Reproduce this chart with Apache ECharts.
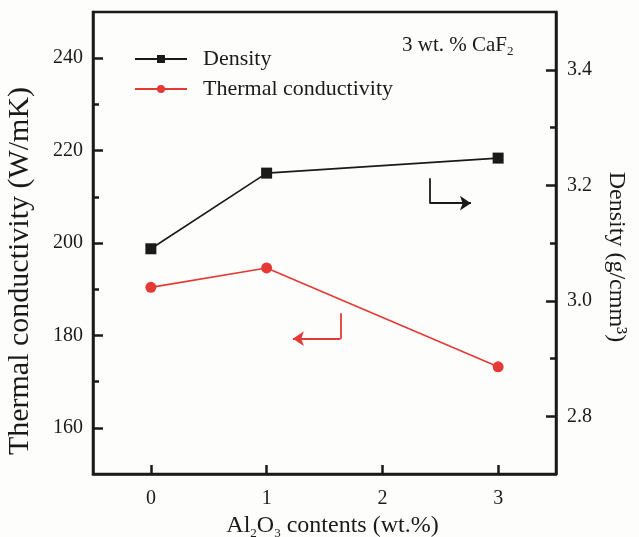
<!DOCTYPE html>
<html>
<head>
<meta charset="utf-8">
<script src="https://cdn.jsdelivr.net/npm/echarts@6/dist/echarts.min.js"></script>
<style>
html,body{margin:0;padding:0;background:#fdfdfb;}
#c{width:639px;height:537px;}
</style>
</head>
<body>
<div id="c"></div>
<script>
// ---- data ----
const alContents = [0, 1, 3];
const density = [3.09, 3.221, 3.247];
const thermal = [190.4, 194.6, 173.2];
const xTicks = [0, 1, 2, 3];
const leftTicks = [160, 180, 200, 220, 240];
const leftMinor = [170, 190, 210, 230];
const rightTicks = [2.8, 3.0, 3.2, 3.4];
const rightMinor = [2.9, 3.1, 3.3];
// annotation arrows (data units)
const redArrow = { x: 1.638, yTop: 184.8, yBot: 179.3, xTip: 1.227 };
const blackArrow = { x: 2.408, yTop: 3.212, yBot: 3.169, xTip: 2.765 };

const FONT = '"Liberation Serif", "Times New Roman", serif';
const INK = '#1a1a1a';
const RED = '#e53935';

const chart = echarts.init(document.getElementById('c'), null, {renderer: 'canvas'});

function pairs(arrX, arrY) { return arrX.map((x, i) => [x, arrY[i]]); }

const axisLineStyle = { show: true, onZero: false, lineStyle: { color: INK, width: 2.5 } };

const option = {
  animation: false,
  backgroundColor: '#fdfdfb',
  textStyle: { fontFamily: FONT, color: INK },
  grid: { left: 93, right: 83, top: 12, bottom: 63, outerBoundsMode: 'none', containLabel: false,
          show: true, borderColor: INK, borderWidth: 2.5, backgroundColor: 'transparent' },
  legend: {
    orient: 'vertical', left: 129, top: 43,
    itemWidth: 52, itemHeight: 10, itemGap: 8,
    textStyle: { fontFamily: FONT, fontSize: 22, color: INK, padding: [0, 0, 0, 11], lineHeight: 20 },
    data: ['Density', 'Thermal conductivity']
  },
  xAxis: {
    type: 'value', min: -0.5, max: 3.5,
    name: '{a|Al}{s|2}{a|O}{s|3}{a| contents (wt.%)}',
    nameLocation: 'middle', nameGap: 33,
    nameTextStyle: { padding: [0, 0, 0, 16], rich: {
      a: { fontFamily: FONT, fontSize: 24, color: INK, lineHeight: 28 },
      s: { fontFamily: FONT, fontSize: 13, color: INK, lineHeight: 13, verticalAlign: 'bottom' }
    }},
    axisLine: axisLineStyle,
    axisTick: { show: true, inside: true, length: 9, customValues: xTicks, lineStyle: { color: INK, width: 2.5 } },
    axisLabel: { customValues: xTicks, fontFamily: FONT, fontSize: 20, color: INK, margin: 15 },
    splitLine: { show: false }
  },
  yAxis: [
    {
      type: 'value', position: 'left', min: 150, max: 250,
      name: 'Thermal conductivity (W/mK)', nameLocation: 'middle', nameGap: 58, nameRotate: 90,
      nameTextStyle: { fontFamily: FONT, fontSize: 30, color: INK, padding: [0, 56, 0, 0] },
      axisLine: axisLineStyle,
      axisTick: { show: true, inside: true, length: 10, customValues: leftTicks, lineStyle: { color: INK, width: 2.5 } },
      axisLabel: { customValues: leftTicks, fontFamily: FONT, fontSize: 20, color: INK, margin: 10 },
      splitLine: { show: false }
    },
    {
      type: 'value', position: 'right', min: 2.7, max: 3.5,
      name: 'Density (g/cmm³)', nameLocation: 'middle', nameGap: 48, nameRotate: -90,
      nameTextStyle: { fontFamily: FONT, fontSize: 24, color: INK, padding: [0, 0, 0, 28] },
      axisLine: axisLineStyle,
      axisTick: { show: true, inside: true, length: 10, customValues: rightTicks, lineStyle: { color: INK, width: 2.5 } },
      axisLabel: { customValues: rightTicks, fontFamily: FONT, fontSize: 20, color: INK, margin: 11, formatter: v => v.toFixed(1) },
      splitLine: { show: false }
    },
    {
      type: 'value', position: 'left', min: 150, max: 250,
      axisLine: { show: false, onZero: false },
      axisTick: { show: true, inside: true, length: 6, customValues: leftMinor, lineStyle: { color: INK, width: 2.5 } },
      axisLabel: { show: false }, splitLine: { show: false }
    },
    {
      type: 'value', position: 'right', min: 2.7, max: 3.5,
      axisLine: { show: false, onZero: false },
      axisTick: { show: true, inside: true, length: 6, customValues: rightMinor, lineStyle: { color: INK, width: 2.5 } },
      axisLabel: { show: false }, splitLine: { show: false }
    }
  ],
  series: [
    {
      name: 'Density', type: 'line', yAxisIndex: 1,
      data: pairs(alContents, density),
      symbol: 'rect', symbolSize: 11,
      itemStyle: { color: INK },
      lineStyle: { color: INK, width: 1.6 },
      markLine: {
        silent: true, symbol: ['none', 'none'], symbolSize: 11,
        label: { show: false },
        lineStyle: { color: INK, width: 1.8, type: 'solid' },
        data: [
          [{ coord: [blackArrow.x, blackArrow.yTop] }, { coord: [blackArrow.x, blackArrow.yBot] }],
          [{ coord: [blackArrow.x, blackArrow.yBot] }, { coord: [blackArrow.xTip, blackArrow.yBot], symbol: 'arrow' }]
        ]
      }
    },
    {
      name: 'Thermal conductivity', type: 'line', yAxisIndex: 0,
      data: pairs(alContents, thermal),
      symbol: 'circle', symbolSize: 11,
      itemStyle: { color: RED },
      lineStyle: { color: RED, width: 1.6 },
      markLine: {
        silent: true, symbol: ['none', 'none'], symbolSize: 11,
        label: { show: false },
        lineStyle: { color: RED, width: 1.8, type: 'solid' },
        data: [
          [{ coord: [redArrow.x, redArrow.yTop] }, { coord: [redArrow.x, redArrow.yBot] }],
          [{ coord: [redArrow.x, redArrow.yBot] }, { coord: [redArrow.xTip, redArrow.yBot], symbol: 'arrow' }]
        ]
      }
    }
  ],
  graphic: [
    {
      type: 'text', left: 402, top: 35,
      style: {
        text: '{a|3 wt. % CaF}{s|2}',
        rich: {
          a: { fontFamily: FONT, fontSize: 21, fill: INK, lineHeight: 26 },
          s: { fontFamily: FONT, fontSize: 13, fill: INK, lineHeight: 13, verticalAlign: 'bottom' }
        }
      }
    }
  ]
};
chart.setOption(option);
</script>
</body>
</html>
